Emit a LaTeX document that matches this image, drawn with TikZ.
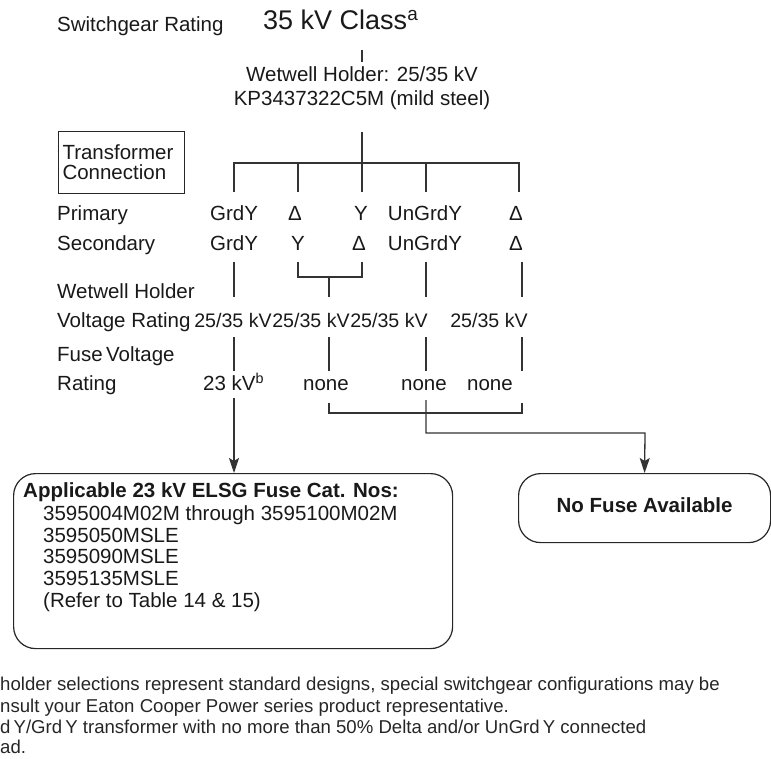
\documentclass[tikz,border=0pt]{standalone}
\usepackage{fontspec}
\setmainfont{Liberation Sans}
\usetikzlibrary{arrows.meta}

\tikzset{
	lbl/.style={anchor=mid west, inner sep=0pt, text=black!90, font=\fontsize{20.5}{24}\selectfont},
	cell/.style={anchor=mid, inner sep=0pt, text=black!90, font=\fontsize{20.5}{24}\selectfont},
	note/.style={anchor=mid west, inner sep=0pt, text=black!85, font=\fontsize{18.6}{22}\selectfont},
	wire/.style={draw=black!80, line width=1.3pt},
	fusebox/.style={draw=black!85, line width=1.2pt, rounded corners=22pt, anchor=north west},
}

\begin{document}
\begin{tikzpicture}[x=1pt, y=-1pt, >={Stealth[length=15pt,width=10pt,inset=3pt]}]
				\useasboundingbox (0,0) rectangle (771,759);

				% heading
				\node[lbl] (rating) at (57,29) {Switchgear Rating};
				\node[lbl, font=\fontsize{27}{30}\selectfont] (class) at (263,27) {35 kV Class\textsuperscript{a}};
				\node[cell] (holder) at (362,79) {Wetwell Holder: 25/35 kV};
				\node[cell] (steel) at (362,103) {KP3437322C5M (mild steel)};
				\coordinate (c0) at (362,50);
				\coordinate (c1) at (362,62);
				\draw[wire] (c0) -- (c1);

				% connection tree
				\node[draw=black!85, line width=1pt, inner xsep=4pt, inner ysep=0pt, anchor=north west,
					minimum width=126pt, minimum height=62pt, text width=118pt, align=left, text=black!90,
					font=\fontsize{20.5}{20}\selectfont] (conn) at (58,131) {Transformer\\Connection};
				\coordinate (stem) at (362,132);
				\coordinate (bus) at (362,163);
				\draw[wire] (stem) -- (bus);
				\coordinate (b1) at (234,192);
				\coordinate (b2) at (298,192);
				\coordinate (b3) at (362,192);
				\coordinate (b4) at (426,192);
				\coordinate (b5) at (519,192);
				\draw[wire] (b1) |- (bus) -| (b5);
				\draw[wire] (b2) -- (b2 |- bus);
				\draw[wire] (b3) -- (bus);
				\draw[wire] (b4) -- (b4 |- bus);

				\node[lbl] (prim) at (57,218) {Primary};
				\node[cell] (p1) at (234,218) {GrdY};
				\node[cell] (p2) at (295,218) {Δ};
				\node[cell] (p3) at (361,218) {Y};
				\node[cell] (p4) at (425,218) {UnGrdY};
				\node[cell] (p5) at (516,218) {Δ};

				\node[lbl] (sec) at (57,248) {Secondary};
				\node[cell] (s1) at (234,248) {GrdY};
				\node[cell] (s2) at (298,248) {Y};
				\node[cell] (s3) at (359,248) {Δ};
				\node[cell] (s4) at (425,248) {UnGrdY};
				\node[cell] (s5) at (516,248) {Δ};

				\coordinate (d1) at (234,262);
				\coordinate (d2) at (298,262);
				\coordinate (d3) at (362,262);
				\coordinate (d4) at (426,262);
				\coordinate (d5) at (522,262);
				\coordinate (join) at (329,277);
				\draw[wire] (d1) -- ++(0,35);
				\draw[wire] (d2) |- (join) -| (d3);
				\draw[wire] (join) -- ++(0,20);
				\draw[wire] (d4) -- ++(0,35);
				\draw[wire] (d5) -- ++(0,35);

				% ratings
				\node[lbl] (wh) at (57,296) {Wetwell Holder};
				\node[lbl] (vr) at (57,325) {Voltage Rating};
				\node[cell, font=\fontsize{19.6}{24}\selectfont] (v1) at (233,325) {25/35 kV};
				\node[cell, font=\fontsize{19.6}{24}\selectfont] (v2) at (311,325) {25/35 kV};
				\node[cell, font=\fontsize{19.6}{24}\selectfont] (v3) at (389,325) {25/35 kV};
				\node[cell, font=\fontsize{19.6}{24}\selectfont] (v4) at (489,325) {25/35 kV};

				\coordinate (e1) at (234,337);
				\coordinate (e2) at (329,337);
				\coordinate (e3) at (426,337);
				\coordinate (e4) at (522,337);
				\draw[wire] (e1) -- ++(0,34);
				\draw[wire] (e2) -- ++(0,34);
				\draw[wire] (e3) -- ++(0,34);
				\draw[wire] (e4) -- ++(0,34);

				\node[lbl] (fv) at (57,359) {Fuse\,Voltage};
				\node[lbl] (fr) at (57,388) {Rating};
				\node[lbl] (f1) at (203,388) {23 kV\textsuperscript{b}};
				\node[cell] (f2) at (326,388) {none};
				\node[cell] (f3) at (424,388) {none};
				\node[cell] (f4) at (490,388) {none};

				% result boxes
				\node[fusebox, minimum width=439pt, minimum height=175pt] (elsg) at (13,473) {};
				\node[fusebox, minimum width=252pt, minimum height=69pt] (nofuse) at (518,473) {};

				\node[lbl, font=\fontsize{20.5}{24}\bfseries] (cat) at (23,495) {Applicable 23 kV ELSG Fuse Cat. Nos:};
				\node[lbl] (cat1) at (43,518) {3595004M02M through 3595100M02M};
				\node[lbl] (cat2) at (43,540) {3595050MSLE};
				\node[lbl] (cat3) at (43,561) {3595090MSLE};
				\node[lbl] (cat4) at (43,583) {3595135MSLE};
				\node[lbl] (cat5) at (43,605) {(Refer to Table 14 \& 15)};
				\node[cell, font=\fontsize{20.5}{24}\bfseries] (none) at ([yshift=-2pt]nofuse.center) {No Fuse Available};

				\coordinate (g1) at (234,398);
				\coordinate (g2) at (329,403);
				\coordinate (g4) at (522,403);
				\coordinate (g3) at (426,400);
				\draw[wire,->] (g1) -- (g1 |- elsg.north);
				\draw[wire] (g2) |- ++(193,10) -- (g4);
				\draw[wire,->] (g3) |- ++(219,33) -- (nofuse.north);

				% footnotes
				\node[note] (n1) at (0,688) {holder selections represent standard designs, special switchgear configurations may be};
				\node[note] (n2) at (0,710) {nsult your Eaton Cooper Power series product representative.};
				\node[note] (n3) at (0,731) {d\,Y/Grd\,Y transformer with no more than 50\% Delta and/or UnGrd\,Y connected};
				\node[note] (n4) at (0,751) {ad.};
			\end{tikzpicture}
\end{document}
